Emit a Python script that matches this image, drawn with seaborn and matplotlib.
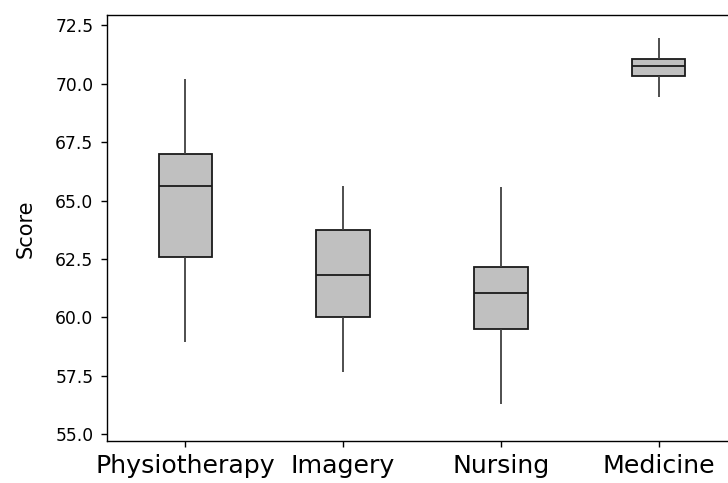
import numpy as np
import pandas as pd
import seaborn as sns
import matplotlib.pyplot as plt

# five-number summaries (min, Q1, median, Q3, max)
groups = ['Physiotherapy', 'Imagery', 'Nursing', 'Medicine']
lows = [58.94, 57.65, 56.30, 69.45]
q1s = [62.59, 60.01, 59.52, 70.33]
medians = [65.64, 61.82, 61.05, 70.76]
q3s = [66.98, 63.75, 62.17, 71.05]
highs = [70.21, 65.62, 65.57, 71.97]

# with 5 points per group, linear quantiles land exactly on these values
rows = []
for g, lo, a, m, b, hi in zip(groups, lows, q1s, medians, q3s, highs):
    for v in (lo, a, m, b, hi):
        rows.append({'group': g, 'Score': v})
df = pd.DataFrame(rows)

sns.set_style('white')
plt.rcParams['font.family'] = ['DejaVu Sans']
plt.rcParams['text.color'] = 'black'
plt.rcParams['axes.labelcolor'] = 'black'
plt.rcParams['xtick.color'] = 'black'
plt.rcParams['ytick.color'] = 'black'

fig = plt.figure(figsize=(7.28, 4.83), dpi=100)
ax = fig.add_axes([106.5 / 728, 41.7 / 483, 631 / 728, 426 / 483])

sns.boxplot(data=df, x='group', y='Score', order=groups, ax=ax,
            whis=(0, 100), width=0.34, color='#c0c0c0', saturation=1,
            showcaps=False, showfliers=False,
            boxprops=dict(edgecolor='#1a1a1a', linewidth=1.3),
            medianprops=dict(color='#1a1a1a', linewidth=1.3),
            whiskerprops=dict(color='#404040', linewidth=1.3))

ax.set_xlim(-0.5, 3.5)
ax.set_ylim(54.70, 72.93)
ax.set_yticks(np.arange(55, 72.6, 2.5))
ax.set_yticklabels([f'{v:.1f}' for v in np.arange(55, 72.6, 2.5)])
ax.set_xlabel('')
ax.set_ylabel('Score', fontsize=15, labelpad=14)
ax.tick_params(axis='y', labelsize=12.3, direction='out', length=4.5, width=1, color='black', left=True, pad=5)
ax.tick_params(axis='x', labelsize=18.2, direction='out', length=4.5, width=1, color='black', bottom=True, pad=5)
for s in ax.spines.values():
    s.set_color('black')
    s.set_linewidth(1)

fig.savefig('out.png', dpi=100)
